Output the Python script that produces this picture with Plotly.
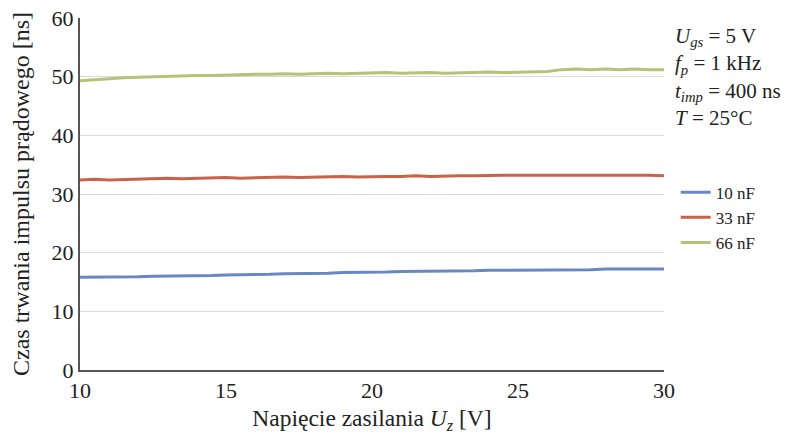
import plotly.graph_objects as go

voltage = [10 + 0.5 * i for i in range(41)]
c10nF = [15.8, 15.8, 15.8, 15.9, 15.9, 16.0, 16.0, 16.0, 16.1, 16.1,
         16.2, 16.2, 16.3, 16.3, 16.4, 16.4, 16.5, 16.5, 16.6, 16.6,
         16.7, 16.7, 16.8, 16.8, 16.8, 16.9, 16.9, 16.9, 17.0, 17.0,
         17.0, 17.0, 17.1, 17.1, 17.1, 17.1, 17.2, 17.2, 17.2, 17.2, 17.2]
c33nF = [32.4, 32.5, 32.4, 32.5, 32.6, 32.6, 32.7, 32.6, 32.7, 32.7,
         32.8, 32.7, 32.8, 32.8, 32.9, 32.8, 32.9, 32.9, 33.0, 32.9,
         33.0, 33.0, 33.0, 33.1, 33.0, 33.1, 33.1, 33.1, 33.2, 33.2,
         33.2, 33.2, 33.3, 33.2, 33.2, 33.2, 33.2, 33.2, 33.2, 33.2, 33.1]
c66nF = [49.3, 49.5, 49.6, 49.8, 49.9, 50.0, 50.1, 50.1, 50.2, 50.2,
         50.3, 50.3, 50.4, 50.4, 50.5, 50.4, 50.5, 50.6, 50.5, 50.6,
         50.6, 50.7, 50.6, 50.7, 50.7, 50.6, 50.7, 50.7, 50.8, 50.7,
         50.8, 50.8, 50.9, 51.2, 51.3, 51.2, 51.3, 51.2, 51.3, 51.2, 51.2]
series_names = ["10 nF", "33 nF", "66 nF"]
colors = ["#6788c4", "#c8634a", "#b5c278"]

FONT = "Liberation Serif"
fig = go.Figure()
for name, ys, col in zip(series_names, [c10nF, c33nF, c66nF], colors):
    fig.add_trace(go.Scatter(x=voltage, y=ys, mode="lines", name=name,
                             line=dict(color=col, width=3)))

fig.update_layout(
    width=804, height=435,
    margin=dict(l=80, r=140, t=18, b=65),
    paper_bgcolor="white", plot_bgcolor="white",
    font=dict(family=FONT, size=22, color="#222"),
    legend=dict(x=1.02, y=0.555, xanchor="left", yanchor="top",
                font=dict(family=FONT, size=17), tracegroupgap=0,
                itemwidth=30, bgcolor="rgba(0,0,0,0)"),
    xaxis=dict(range=[10, 30], tickvals=[10, 15, 20, 25, 30],
               showgrid=False, showline=True, linecolor="#555", linewidth=2,
               ticks="", zeroline=False, automargin=False,
               title=dict(text="Napięcie zasilania <i>U<sub>z</sub></i> [V]",
                          font=dict(family=FONT, size=23.5))),
    yaxis=dict(range=[0, 60], tickvals=[0, 10, 20, 30, 40, 50, 60],
               showgrid=True, gridcolor="#d9d9d9", gridwidth=1,
               showline=True, linecolor="#555", linewidth=2,
               ticks="", zeroline=False, automargin=False,
               title=dict(text="Czas trwania impulsu prądowego [ns]",
                          font=dict(family=FONT, size=24))),
    annotations=[dict(
        xref="paper", yref="paper", x=1.015, y=0.99, xanchor="left", yanchor="top",
        align="left", showarrow=False,
        font=dict(family=FONT, size=21, color="#222"),
        text=("<i>U<sub>gs</sub></i> = 5 V<br><i>f<sub>p</sub></i> = 1 kHz<br>"
              "<i>t<sub>imp</sub></i> = 400 ns<br><i>T</i> = 25°C"))],
)
fig.write_html("out.html")
